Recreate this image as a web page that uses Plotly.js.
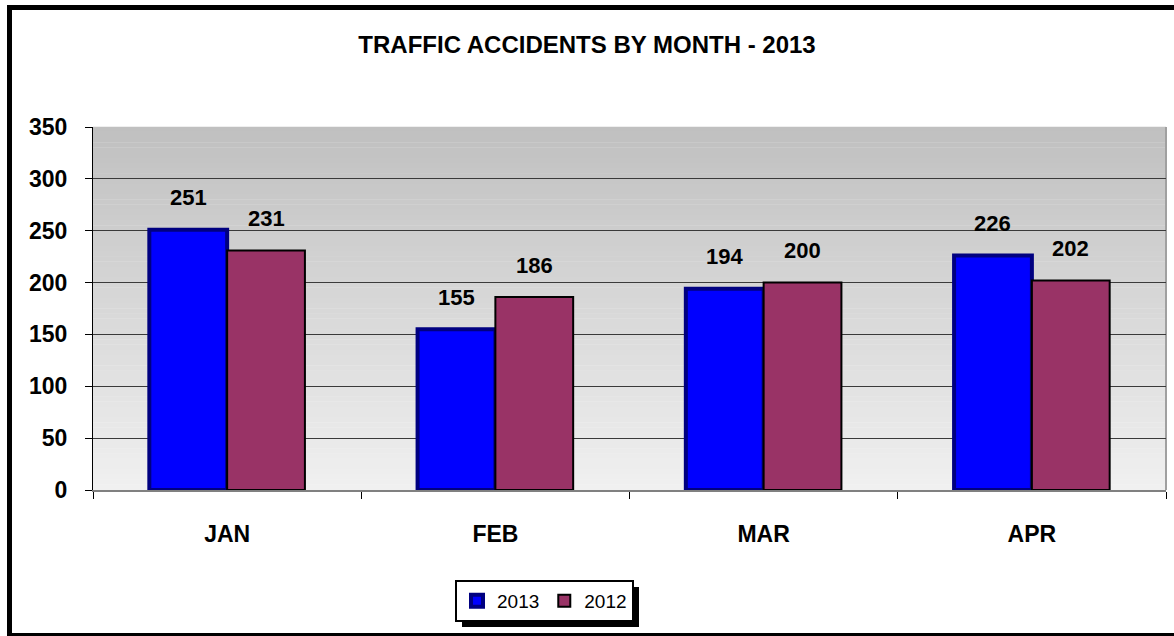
<!DOCTYPE html>
<html>
<head>
<meta charset="utf-8">
<script src="https://cdn.plot.ly/plotly-3.0.1.min.js"></script>
<style>
  html, body { margin: 0; padding: 0; background: #fff; }
  #wrap { position: relative; width: 1174px; height: 636px; overflow: hidden; }
  #chart { position: absolute; left: 0; top: 0; width: 1174px; height: 636px; }
  #frame { position: absolute; left: 7px; top: 5px; width: 1200px; height: 623px;
           border-left: 5px solid #000; border-top: 5px solid #000; border-bottom: 5px solid #000;
           pointer-events: none; }
</style>
</head>
<body>
<div id="wrap">
  <div id="chart"></div>
  <div id="frame"></div>
</div>
<script>
// ---- data ----
const months = ["JAN", "FEB", "MAR", "APR"];
const values2013 = [251, 155, 194, 226];
const values2012 = [231, 186, 200, 202];
const seriesNames = ["2013", "2012"];
const chartTitle = "TRAFFIC ACCIDENTS BY MONTH - 2013";
const yTicks = [0, 50, 100, 150, 200, 250, 300, 350];

// ---- layout geometry ----
const W = 1174, H = 636;
const L = 93, R = 1166, T = 127, B = 490;
const pw = R - L, ph = B - T;
const px = v => (v - L) / pw;
const py = v => (B - v) / ph;
const BARGAP = 0.42;

const font = "Arial, 'Liberation Sans', Helvetica, sans-serif";

const traces = [
  {
    type: "bar", name: seriesNames[0], x: months, y: values2013,
    marker: { color: "#0000FF", line: { color: "#000080", width: 4 } },
    hoverinfo: "none"
  },
  {
    type: "bar", name: seriesNames[1], x: months, y: values2012,
    marker: { color: "#993366", line: { color: "#000000", width: 2 } },
    hoverinfo: "none"
  }
];

// gradient background bands (style only)
const shapes = [];
const nBands = 70;
for (let i = 0; i < nBands; i++) {
  const t = i / (nBands - 1);
  const c = Math.round(0xC0 + (0xF0 - 0xC0) * t);
  shapes.push({
    type: "rect", xref: "paper", yref: "paper", layer: "below",
    x0: 0, x1: 1, y0: 1 - (i + 1) / nBands, y1: 1 - i / nBands + 0.001,
    fillcolor: `rgb(${c},${c},${c})`, line: { width: 0 }
  });
}
shapes.push({ type: "line", xref: "paper", yref: "paper", x0: 1, x1: 1, y0: 0, y1: 1,
  line: { color: "#a0a0a0", width: 2 }, layer: "below" });

// data labels
const annotations = [];
const half = (1 - BARGAP) / 4;
const off = [-half, half];
[values2013, values2012].forEach((vals, s) => {
  vals.forEach((v, i) => {
    annotations.push({
      xref: "x", yref: "y", x: i + off[s], y: v, text: String(v),
      showarrow: false, yanchor: "middle", yshift: 32,
      font: { family: font, size: 22, color: "#000", weight: "bold" }
    });
  });
});

const layout = {
  width: W, height: H,
  margin: { l: L, r: W - R, t: T, b: H - B, pad: 0 },
  paper_bgcolor: "#fff",
  plot_bgcolor: "rgba(0,0,0,0)",
  title: {
    text: chartTitle, xref: "container", yref: "container",
    x: 0.5, xanchor: "center", y: 1 - 45 / H, yanchor: "middle",
    font: { family: font, size: 24, color: "#000", weight: "bold" }
  },
  barmode: "group", bargap: BARGAP, bargroupgap: 0,
  xaxis: {
    type: "category", tickson: "boundaries", ticks: "outside", ticklen: 7,
    tickcolor: "#000", showline: true, linecolor: "#808080", linewidth: 2,
    showgrid: false, ticklabelstandoff: 22,
    tickfont: { family: font, size: 23, color: "#000", weight: "bold" }
  },
  yaxis: {
    range: [0, 350], tickvals: yTicks, ticks: "outside", ticklen: 7, tickcolor: "#000",
    showline: true, linecolor: "#000", linewidth: 1, zeroline: false,
    showgrid: true, gridcolor: "#3a3a3a", gridwidth: 1,
    ticklabelstandoff: 13,
    tickfont: { family: font, size: 23, color: "#000", weight: "bold" }
  },
  showlegend: true,
  legend: {
    orientation: "h", xref: "paper", yref: "paper",
    x: px(455), y: py(580), xanchor: "left", yanchor: "top",
    bgcolor: "#fff", bordercolor: "#000", borderwidth: 2,
    font: { family: font, size: 19, color: "#000" },
    itemwidth: 30, traceorder: "normal", tracegroupgap: 0
  },
  shapes: shapes,
  annotations: annotations
};

Plotly.newPlot("chart", traces, layout, { displayModeBar: false, staticPlot: true }).then(gd => {
  // legend drop shadow, sized from the drawn legend box
  const bg = gd.querySelector(".legend .bg");
  if (!bg) return;
  const lr = bg.getBoundingClientRect();
  const cr = gd.getBoundingClientRect();
  const x0 = lr.left - cr.left + 6, x1 = lr.right - cr.left + 6;
  const y0 = lr.top - cr.top + 6, y1 = lr.bottom - cr.top + 6;
  const newShapes = gd.layout.shapes.concat([{
    type: "rect", xref: "paper", yref: "paper", layer: "above",
    x0: px(x0), x1: px(x1), y0: py(y1), y1: py(y0),
    fillcolor: "#000", line: { width: 0 }
  }]);
  return Plotly.relayout(gd, { shapes: newShapes });
});
</script>
</body>
</html>
